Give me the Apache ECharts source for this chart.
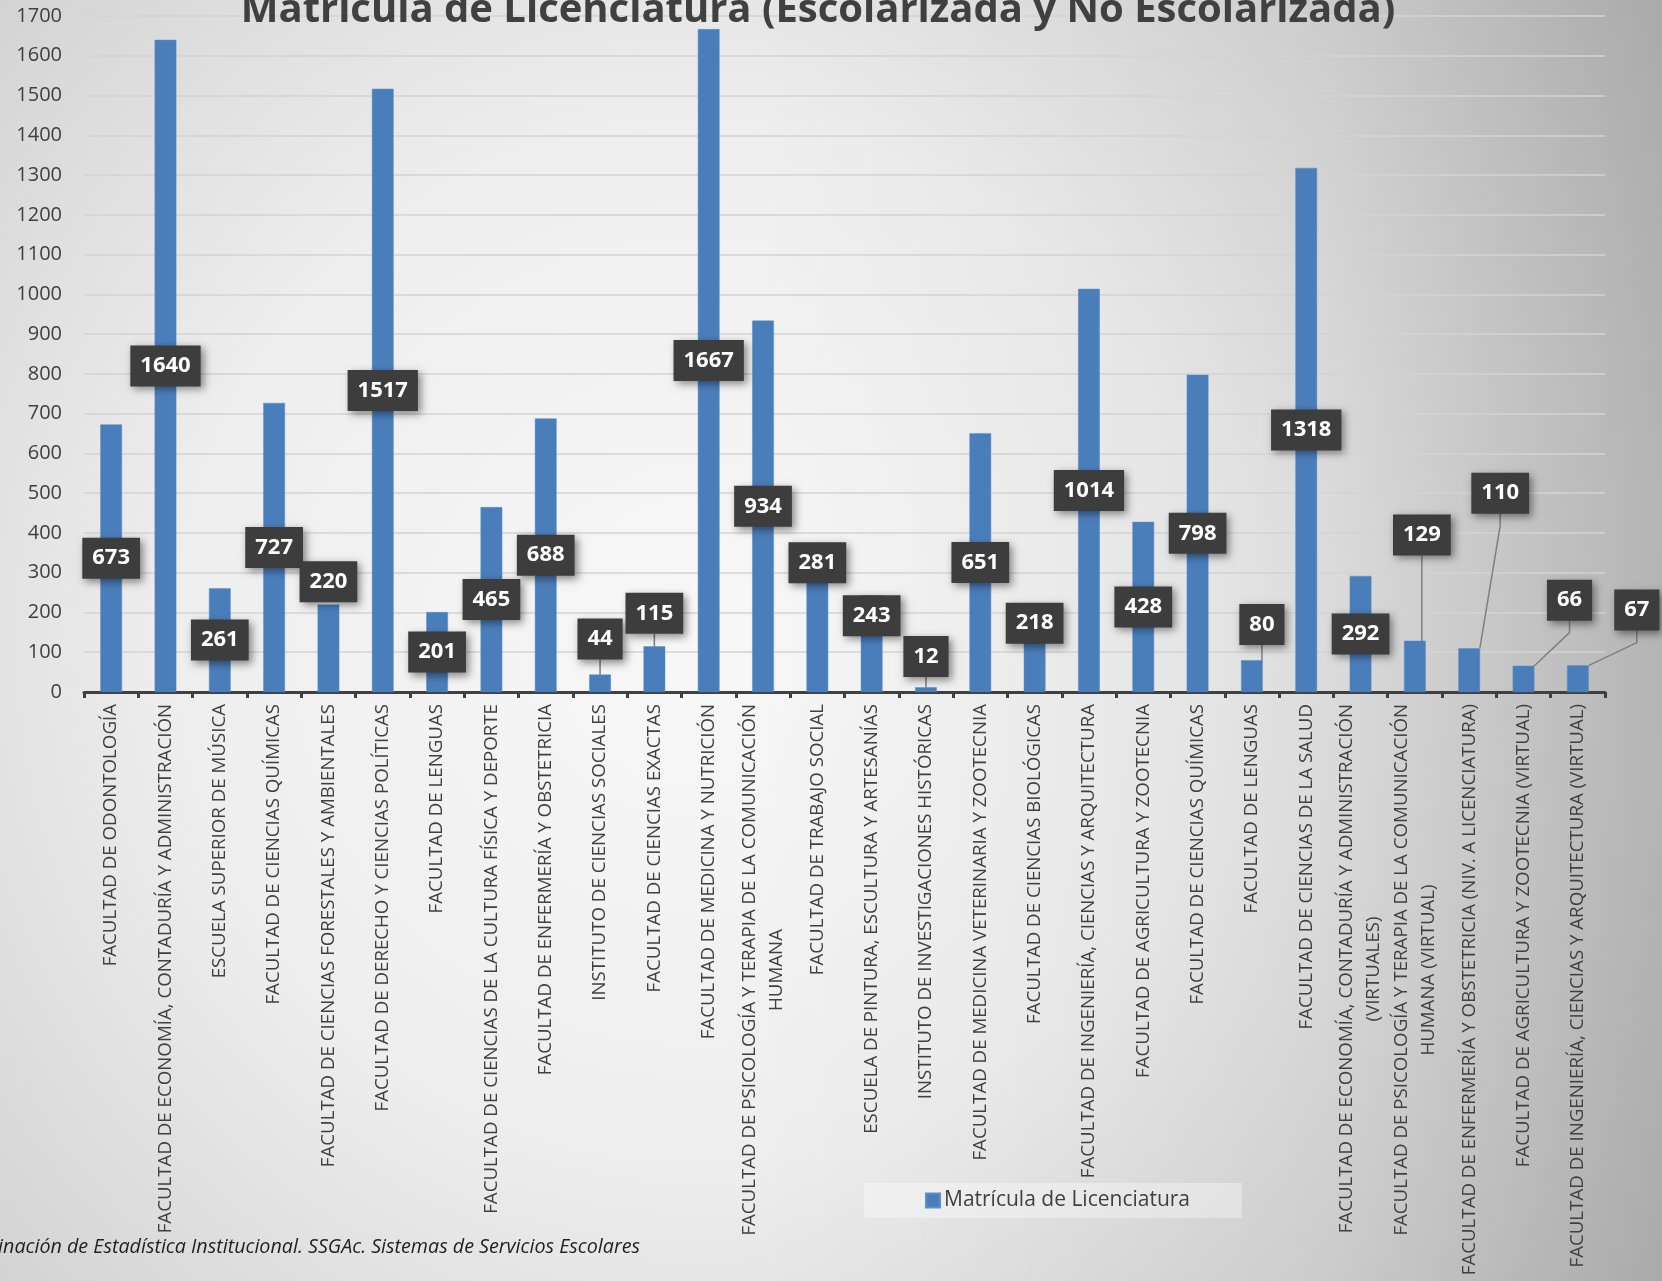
<!DOCTYPE html>
<html>
<head>
<meta charset="utf-8">
<script src="https://cdn.jsdelivr.net/npm/echarts@6/dist/echarts.min.js"></script>
<style>
html,body{margin:0;padding:0;overflow:hidden;background:#eee}
#c{width:1662px;height:1281px}
</style>
</head>
<body>
<div id="c"></div>
<script>
// ---- data ----
const titleText = 'Matrícula de Licenciatura (Escolarizada y No Escolarizada)';
const seriesName = 'Matrícula de Licenciatura';
const sourceText = 'inación de Estadística Institucional. SSGAc. Sistemas de Servicios Escolares';
const categories = [
  'FACULTAD DE ODONTOLOGÍA',
  'FACULTAD DE ECONOMÍA, CONTADURÍA Y ADMINISTRACIÓN',
  'ESCUELA SUPERIOR DE MÚSICA',
  'FACULTAD DE CIENCIAS QUÍMICAS',
  'FACULTAD DE CIENCIAS FORESTALES Y AMBIENTALES',
  'FACULTAD DE DERECHO Y CIENCIAS POLÍTICAS',
  'FACULTAD DE LENGUAS',
  'FACULTAD DE CIENCIAS DE LA CULTURA FÍSICA Y DEPORTE',
  'FACULTAD DE ENFERMERÍA Y OBSTETRICIA',
  'INSTITUTO DE CIENCIAS SOCIALES',
  'FACULTAD DE CIENCIAS EXACTAS',
  'FACULTAD DE MEDICINA Y NUTRICIÓN',
  'FACULTAD DE PSICOLOGÍA Y TERAPIA DE LA COMUNICACIÓN\nHUMANA',
  'FACULTAD DE TRABAJO SOCIAL',
  'ESCUELA DE PINTURA, ESCULTURA Y ARTESANÍAS',
  'INSTITUTO DE INVESTIGACIONES HISTÓRICAS',
  'FACULTAD DE MEDICINA VETERINARIA Y ZOOTECNIA',
  'FACULTAD DE CIENCIAS BIOLÓGICAS',
  'FACULTAD DE INGENIERÍA, CIENCIAS Y ARQUITECTURA',
  'FACULTAD DE AGRICULTURA Y ZOOTECNIA',
  'FACULTAD DE CIENCIAS QUÍMICAS',
  'FACULTAD DE LENGUAS',
  'FACULTAD DE CIENCIAS DE LA SALUD',
  'FACULTAD DE ECONOMÍA, CONTADURÍA Y ADMINISTRACIÓN\n(VIRTUALES)',
  'FACULTAD DE PSICOLOGÍA Y TERAPIA DE LA COMUNICACIÓN\nHUMANA (VIRTUAL)',
  'FACULTAD DE ENFERMERÍA Y OBSTETRICIA (NIV. A LICENCIATURA)',
  'FACULTAD DE AGRICULTURA Y ZOOTECNIA (VIRTUAL)',
  'FACULTAD DE INGENIERÍA, CIENCIAS Y ARQUITECTURA (VIRTUAL)'
];
const values = [673, 1640, 261, 727, 220, 1517, 201, 465, 688, 44, 115, 1667, 934, 281, 243, 12, 651, 218, 1014, 428, 798, 80, 1318, 292, 129, 110, 66, 67];
const yMin = 0, yMax = 1700, yStep = 100;

// ---- label placement (style only): centre height in axis units + horizontal shift in px ----
const labelPlacement = {
  4: {v: 277, dx: 0},
  9: {v: 133, dx: 0, line: true},
  10: {v: 198, dx: 0, line: true},
  13: {v: 325, dx: 0},
  14: {v: 192, dx: 0},
  15: {v: 89, dx: 0, line: true},
  17: {v: 173, dx: 0},
  21: {v: 170, dx: 10, line: true},
  24: {v: 395, dx: 7, line: true},
  25: {v: 500, dx: 31, line: true},
  26: {v: 231, dx: 46, line: true},
  27: {v: 206, dx: 59, line: true}
};

const TXT = '#404040';
const catFont = 'Open Sans';
const catSize = 18.7;

// measure first lines for centred second lines
const mctx = document.createElement('canvas').getContext('2d');
mctx.font = catSize + 'px "' + catFont + '"';
const rich = {};
const labelMap = {};
categories.forEach(function (c, i) {
  if (c.indexOf('\n') >= 0) {
    const parts = c.split('\n');
    const w = Math.ceil(mctx.measureText(parts[0]).width);
    const key = 'l' + i;
    rich[key] = {width: w, align: 'center', fontFamily: catFont, fontSize: catSize, color: TXT, lineHeight: 27};
    rich['f' + i] = {fontFamily: catFont, fontSize: catSize, color: TXT, lineHeight: 27};
    labelMap[i] = '{f' + i + '|' + parts[0] + '}\n{' + key + '|' + parts[1] + '}';
  }
});

const barData = values.map(function (v, i) {
  const p = labelPlacement[i];
  const item = {value: v};
  if (p && p.line) {
    item.labelLine = {show: true};
  }
  return item;
});

const chart = echarts.init(document.getElementById('c'), null, {renderer: 'canvas'});
chart.setOption({
  backgroundColor: {
    type: 'radial', x: 0.42, y: 0.5, r: 0.9,
    colorStops: [
      {offset: 0, color: '#f8f8f8'},
      {offset: 0.45, color: '#eeeeee'},
      {offset: 1, color: '#c6c6c6'}
    ]
  },
  graphic: [
    {
      type: 'rect', z: -10, silent: true,
      shape: {x: 0, y: 0, width: 1662, height: 1281},
      style: {
        fill: {
          type: 'linear', x: 0, y: 0, x2: 1, y2: 0,
          colorStops: [
            {offset: 0, color: 'rgba(0,0,0,0)'},
            {offset: 0.45, color: 'rgba(0,0,0,0)'},
            {offset: 0.8, color: 'rgba(0,0,0,0.05)'},
            {offset: 1, color: 'rgba(0,0,0,0.14)'}
          ]
        }
      }
    },
    {
      type: 'text', silent: true,
      style: {
        text: sourceText, x: 640, y: 1247, align: 'right', verticalAlign: 'middle',
        font: 'italic 19.7px "Open Sans"', fill: '#222'
      }
    }
  ],
  title: {
    text: titleText,
    left: 813, top: -14, textAlign: 'center',
    textStyle: {fontFamily: 'Open Sans', fontWeight: 'bold', fontSize: 40, color: TXT}
  },
  legend: {
    data: [seriesName],
    left: 864, top: 1183,
    icon: 'rect', itemWidth: 14, itemHeight: 14, itemGap: 4,
    padding: [7, 52, 7, 61],
    backgroundColor: 'rgba(255,255,255,0.35)',
    textStyle: {fontFamily: 'Open Sans', fontSize: 21, color: TXT, padding: [0, 0, 0, -1]}
  },
  grid: {left: 84, right: 57, top: 16, bottom: 1281 - 692, containLabel: false},
  xAxis: {
    type: 'category',
    data: categories,
    axisLine: {show: true, lineStyle: {color: TXT, width: 3}},
    axisTick: {show: true, length: 6, lineStyle: {color: TXT, width: 3}},
    axisLabel: {
      interval: 0, rotate: 90, margin: 12,
      fontFamily: catFont, fontSize: catSize, color: TXT, lineHeight: 27,
      formatter: function (val, idx) { return labelMap[idx] || val; },
      rich: rich
    },
    splitLine: {show: false}
  },
  yAxis: {
    type: 'value', min: yMin, max: yMax, interval: yStep,
    axisLine: {show: false}, axisTick: {show: false},
    axisLabel: {fontFamily: 'Open Sans', fontSize: 20, color: TXT, margin: 22,
      formatter: function (v) { return String(v); }},
    splitLine: {lineStyle: {color: '#d3d3d3', width: 1.5}}
  },
  series: [{
    name: seriesName,
    type: 'bar',
    data: barData,
    barWidth: '40%',
    itemStyle: {color: '#4a7ebb', borderColor: '#5b8fcb', borderWidth: 0.5},
    label: {
      show: true, position: 'inside',
      formatter: '{c}',
      fontFamily: 'Open Sans', fontWeight: 'bold', fontSize: 22, color: '#fff',
      textBorderWidth: 0,
      backgroundColor: '#3d3d3d',
      padding: [8, 10, 7, 10],
      lineHeight: 26,
      shadowBlur: 8, shadowColor: 'rgba(0,0,0,0.45)', shadowOffsetX: 3, shadowOffsetY: 3
    },
    labelLine: {show: false, length2: 12, lineStyle: {color: '#7f7f7f', width: 1.5}},
    labelLayout: function (p) {
      const pl = labelPlacement[p.dataIndex];
      if (!pl) return {};
      const r = p.rect;
      const v = values[p.dataIndex];
      const per = r.height / v;
      const bottom = r.y + r.height;
      return {x: r.x + r.width / 2 + pl.dx, y: bottom - pl.v * per, align: 'center', verticalAlign: 'middle'};
    }
  }]
});
</script>
</body>
</html>
